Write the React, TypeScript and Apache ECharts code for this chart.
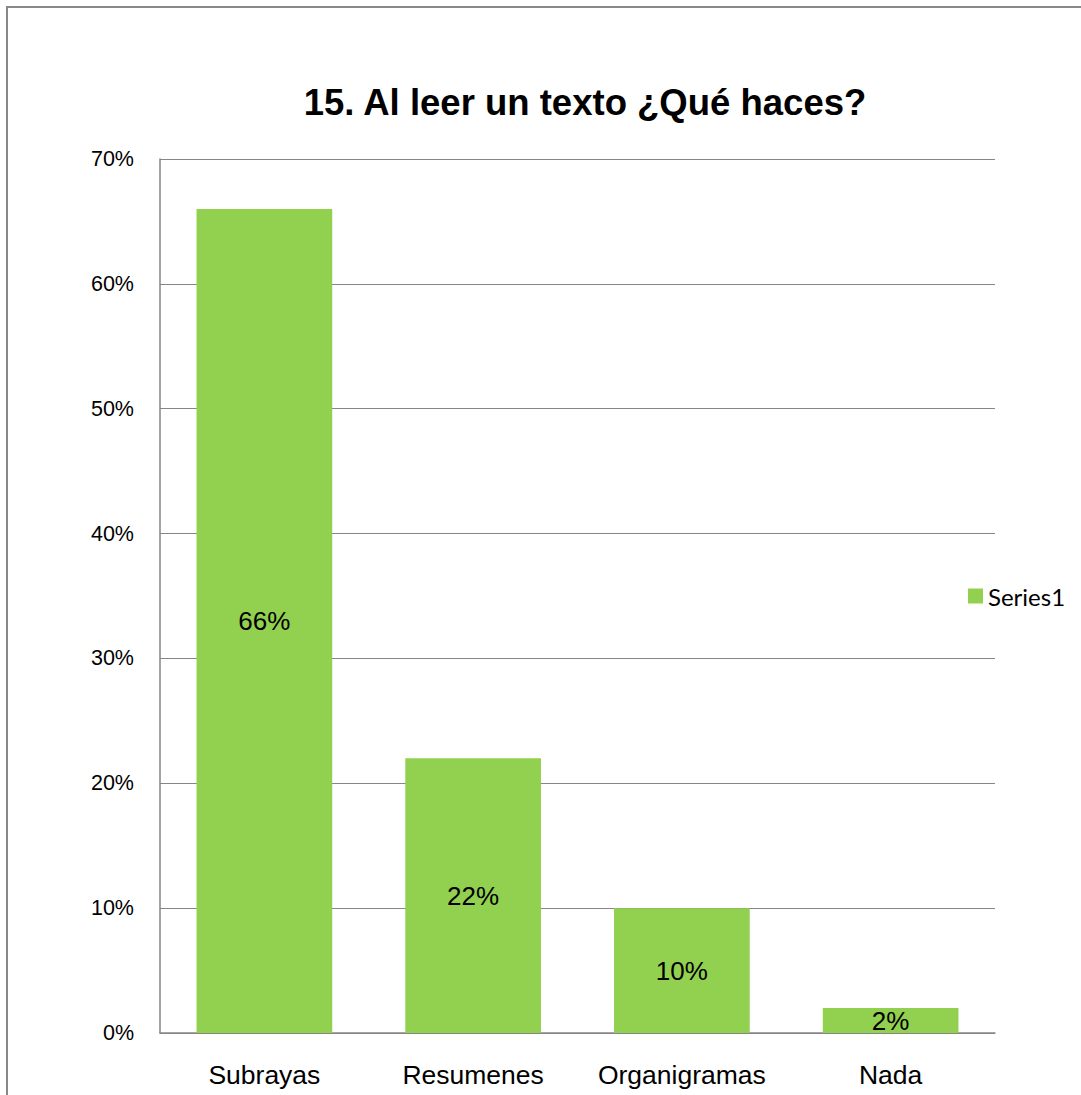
import React, { useEffect, useRef } from "react";
import * as echarts from "echarts";

const titleText = "15. Al leer un texto ¿Qué haces?";
const categories = ["Subrayas", "Resumenes", "Organigramas", "Nada"];
const values = [66, 22, 10, 2];
const seriesName = "Series1";
const yMax = 70;
const yInterval = 10;

export default function App() {
  const ref = useRef<HTMLDivElement>(null);
  useEffect(() => {
    const chart = echarts.init(ref.current!, null, { renderer: "svg" });
    chart.setOption({
      animation: false,
      backgroundColor: "#ffffff",
      textStyle: { fontFamily: "Liberation Sans, Arial, sans-serif" },
      graphic: [
        {
          type: "rect",
          shape: { x: 7, y: 7, width: 1200, height: 1200 },
          style: { fill: "none", stroke: "#888888", lineWidth: 2 },
          silent: true,
        },
        {
          type: "text",
          x: 585,
          y: 102,
          style: {
            text: titleText,
            fontFamily: "Liberation Sans, Arial, sans-serif",
            fontWeight: "bold",
            fontSize: 36.5,
            fill: "#000000",
            textAlign: "center",
            textVerticalAlign: "middle",
          },
        },
      ],
      legend: {
        data: [seriesName],
        left: 963,
        top: 579,
        icon: "rect",
        itemWidth: 15,
        itemHeight: 15,
        textStyle: { fontFamily: "Lato, sans-serif", fontSize: 24, color: "#000000" },
      },
      grid: { left: 160, top: 159, right: 86, bottom: 62, containLabel: false },
      xAxis: {
        type: "category",
        data: categories,
        axisLine: { show: true, lineStyle: { color: "#868686", width: 1.5 } },
        axisTick: { show: false },
        axisLabel: {
          interval: 0,
          hideOverlap: false,
          color: "#000000",
          fontSize: 26.5,
          margin: 28,
          fontFamily: "Liberation Sans, Arial, sans-serif",
        },
      },
      yAxis: {
        type: "value",
        min: 0,
        max: yMax,
        interval: yInterval,
        axisLine: { show: true, lineStyle: { color: "#868686", width: 1.5 } },
        axisTick: { show: false },
        splitLine: { show: true, lineStyle: { color: "#868686", width: 1 } },
        axisLabel: {
          color: "#000000",
          fontSize: 21.5,
          margin: 26,
          formatter: "{value}%",
          fontFamily: "Liberation Sans, Arial, sans-serif",
        },
      },
      series: [
        {
          name: seriesName,
          type: "bar",
          data: values,
          barCategoryGap: "35%",
          itemStyle: { color: "#92D050" },
          label: {
            show: true,
            position: "inside",
            formatter: "{c}%",
            color: "#000000",
            fontSize: 26,
            fontFamily: "Liberation Sans, Arial, sans-serif",
          },
        },
      ],
    });
    return () => chart.dispose();
  }, []);
  return (
    <div
      ref={ref}
      style={{ position: "absolute", left: 0, top: 0, width: 1081, height: 1095 }}
    />
  );
}
